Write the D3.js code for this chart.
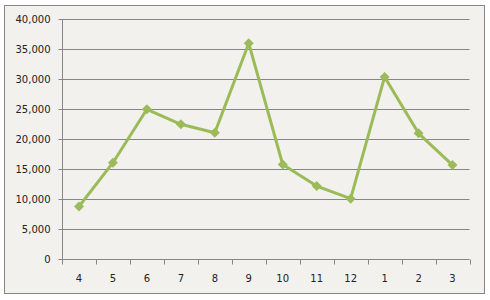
<!DOCTYPE html>
<html>
<head>
<meta charset="utf-8">
<script src="https://cdn.jsdelivr.net/npm/d3@7"></script>
<style>
  body { margin: 0; background: #fff; }
  svg { display: block; }
  text { font-family: "DejaVu Sans", sans-serif; font-size: 10px; fill: #222; }
</style>
</head>
<body>
<svg id="chart" width="490" height="300"></svg>
<script>
// month categories and monthly values
const months = ['4', '5', '6', '7', '8', '9', '10', '11', '12', '1', '2', '3'];
const values = [8800, 16100, 25000, 22500, 21100, 36000, 15800, 12200, 10100, 30400, 21000, 15700];
const yTicks = [0, 5000, 10000, 15000, 20000, 25000, 30000, 35000, 40000];

const svg = d3.select('#chart');
const grey = '#868686';

// chart background and outer frame
svg.append('rect')
  .attr('x', 4.5).attr('y', 5.5)
  .attr('width', 480).attr('height', 288)
  .attr('fill', '#f2f1ed')
  .attr('stroke', grey);

const plotL = 62, plotR = 469.5, plotT = 19.3, plotB = 259.3;

const x = d3.scaleBand().domain(months).range([plotL, plotR]);
const y = d3.scaleLinear().domain([0, 40000]).range([plotB, plotT]);

// horizontal gridlines
svg.append('g')
  .selectAll('line')
  .data(yTicks.slice(1))
  .join('line')
  .attr('x1', plotL).attr('x2', plotR)
  .attr('y1', d => Math.round(y(d)) + 0.5)
  .attr('y2', d => Math.round(y(d)) + 0.5)
  .attr('stroke', grey);

// y axis
const yAxis = svg.append('g')
  .attr('transform', `translate(${plotL + 0.5},0)`)
  .call(d3.axisLeft(y).tickValues(yTicks).tickSize(4).tickPadding(8).tickFormat(d3.format(',')));
yAxis.selectAll('.tick').attr('transform', d => `translate(0,${Math.round(y(d)) + 0.5})`);
yAxis.select('.domain').attr('stroke', grey).attr('d', `M0,${Math.round(plotT) + 0.5}V${Math.round(plotB) + 0.5}`);
yAxis.selectAll('.tick line').attr('stroke', grey);
yAxis.selectAll('.tick text').style('font-family', '"DejaVu Sans", sans-serif').style('font-size', '10px').attr('fill', '#222');

// x axis: ticks sit between categories
const xAxis = svg.append('g')
  .attr('transform', `translate(0,${Math.round(plotB) + 0.5})`);
xAxis.append('line')
  .attr('x1', plotL).attr('x2', plotR)
  .attr('stroke', grey);
xAxis.selectAll('line.tk')
  .data(months.concat(['end']))
  .join('line')
  .attr('class', 'tk')
  .attr('x1', (d, i) => Math.round(plotL + i * x.step()) + 0.5)
  .attr('x2', (d, i) => Math.round(plotL + i * x.step()) + 0.5)
  .attr('y1', 0).attr('y2', 5)
  .attr('stroke', grey);
xAxis.selectAll('text')
  .data(months)
  .join('text')
  .attr('x', d => x(d) + x.bandwidth() / 2)
  .attr('y', 22)
  .attr('text-anchor', 'middle')
  .text(d => d);

// the series line and diamond markers
const pts = months.map((m, i) => [x(m) + x.bandwidth() / 2, y(values[i])]);
svg.append('path')
  .attr('d', d3.line()(pts))
  .attr('fill', 'none')
  .attr('stroke', '#9bbb59')
  .attr('stroke-width', 3)
  .attr('stroke-linejoin', 'round');

svg.append('g')
  .selectAll('path')
  .data(pts)
  .join('path')
  .attr('transform', d => `translate(${d[0]},${d[1]})`)
  .attr('d', 'M0,-5L5,0L0,5L-5,0Z')
  .attr('fill', '#9bbb59');
</script>
</body>
</html>
